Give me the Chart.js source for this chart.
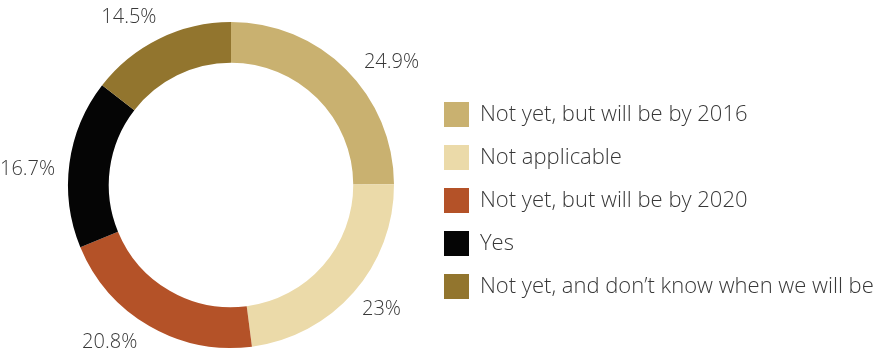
<!DOCTYPE html>
<html>
<head>
<meta charset="utf-8">
<script src="https://cdn.jsdelivr.net/npm/chart.js@4.4.1/dist/chart.umd.min.js"></script>
<style>
  html, body { margin: 0; padding: 0; background: #fff; }
  #wrap { width: 874px; height: 349px; }
</style>
</head>
<body>
<div id="wrap"><canvas id="doughnutChartArea"></canvas></div>
<script>
const categories = [
  'Not yet, but will be by 2016',
  'Not applicable',
  'Not yet, but will be by 2020',
  'Yes',
  'Not yet, and don\u2019t know when we will be'
];
const shares = [24.9, 23, 20.8, 16.7, 14.5];
const sliceColours = ['#C9B170', '#EBDAA9', '#B45228', '#050505', '#92752E'];
// small nudges (degrees) so the percentages sit roughly where the original has them
const labelNudge = [7.7, -1.5, 7.6, -3.3, -5.2];

const textColour = '#383838';
const legendFontSize = 22;
const labelFontSize = 20;
Chart.defaults.font.family = "'Open Sans', sans-serif";
Chart.defaults.font.weight = 300;
Chart.defaults.color = textColour;

// legend text should run up to the right edge of the page
const measure = document.createElement('canvas').getContext('2d');
measure.font = "300 " + legendFontSize + "px 'Open Sans'";
const longest = Math.max(...categories.map(c => measure.measureText(c).width));
const rightPad = 874 - 10 - (444 + 25 + legendFontSize / 2 + longest);

const percentLabels = {
  id: 'percentLabels',
  afterDatasetsDraw(chart) {
    const ctx = chart.ctx;
    ctx.save();
    ctx.font = "300 " + labelFontSize + "px 'Open Sans'";
    ctx.fillStyle = textColour;
    ctx.textAlign = 'center';
    ctx.textBaseline = 'middle';
    chart.getDatasetMeta(0).data.forEach((arc, i) => {
      const p = arc.getProps(['x', 'y', 'startAngle', 'endAngle', 'outerRadius'], true);
      const txt = shares[i] + '%';
      const a = (p.startAngle + p.endAngle) / 2 + labelNudge[i] * Math.PI / 180;
      const w = ctx.measureText(txt).width;
      const r = p.outerRadius + 13 + Math.abs(Math.cos(a)) * w / 2 + Math.abs(Math.sin(a)) * 7;
      ctx.fillText(txt, p.x + Math.cos(a) * r, p.y + Math.sin(a) * r);
    });
    ctx.restore();
  }
};

let displaydoughnutChart = new Chart(document.getElementById('doughnutChartArea'), {
  type: 'doughnut',
  data: {
    labels: categories,
    datasets: [{
      data: shares,
      backgroundColor: sliceColours,
      borderWidth: 0
    }]
  },
  options: {
    responsive: true,
    maintainAspectRatio: false,
    animation: false,
    cutout: '75%',
    layout: { padding: { left: 36, right: rightPad, top: 22, bottom: 1 } },
    plugins: {
      tooltip: { enabled: false },
      legend: {
        position: 'right',
        maxWidth: 800,
        // empty title only pushes the legend rows down a bit
        title: { display: true, text: '', padding: { top: 7, bottom: 0 }, font: { size: 20 } },
        labels: {
          boxWidth: 25,
          boxHeight: 25,
          padding: 18,
          color: textColour,
          font: { size: legendFontSize, weight: 300 }
        }
      }
    }
  },
  plugins: [percentLabels]
});
</script>
</body>
</html>
